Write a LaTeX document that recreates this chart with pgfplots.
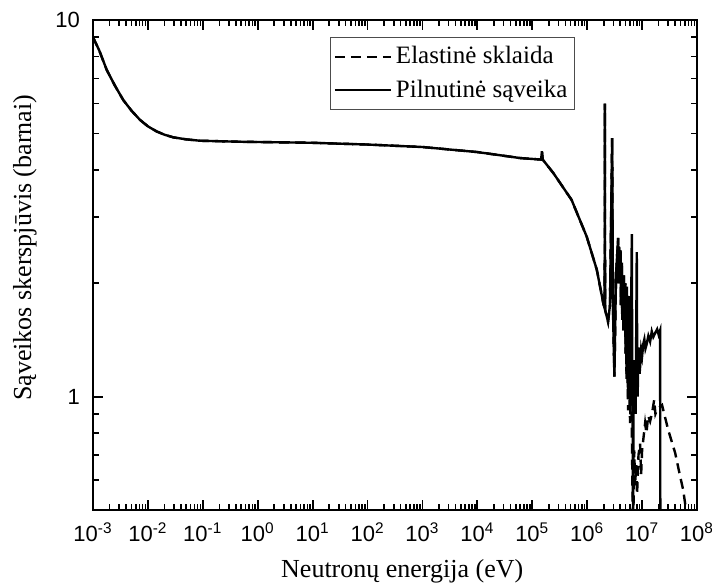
\documentclass[border=0pt]{standalone}
\usepackage{pgfplots}
\pgfplotsset{compat=1.18}
\usepackage{fontspec}
\setmainfont{Liberation Serif}
\newfontfamily\arial{Liberation Sans}

\pgfplotstableread{
x y
0.001 9.0
0.0013 8.3
0.00178 7.37
0.0025 6.7
0.00356 6.13
0.005 5.75
0.00718 5.43
0.01 5.22
0.0144 5.06
0.02 4.96
0.029 4.88
0.05 4.82
0.089 4.78
0.48 4.75
3.9 4.73
10 4.72
100 4.67
1000 4.60
10000 4.46
60000 4.30
145000 4.26
150000 4.48
155000 4.26
243000 3.92
520000 3.33
980000 2.66
1500000 2.17
1980000 1.76
2080000 1.72
2100000 6.0
2120000 1.70
2400000 1.58
2600000 1.75
2850000 4.86
2950000 1.7
3130000 1.13
3350000 2.1
3660000 2.64
3750000 2.0
3800000 2.5
3950000 2.2
4050000 2.45
4100000 1.75
4270000 2.27
4350000 1.6
4450000 2.0
4550000 1.5
4650000 2.1
4750000 1.6
4900000 2.0
}\common

\pgfplotstableread{
x y
4900000 2.0
5000000 1.3
5100000 1.95
5200000 1.15
5300000 1.96
5450000 1.2
5560000 1.0
5700000 1.7
5800000 1.85
5900000 1.1
6040000 0.95
6200000 1.4
6300000 1.6
6500000 2.70
6600000 1.3
6700000 1.0
6850000 0.45
7000000 1.1
7200000 1.25
7400000 1.0
7600000 0.9
7800000 1.4
8000000 2.42
8150000 1.2
8300000 1.0
8500000 1.25
8700000 1.35
9000000 1.15
9200000 1.2
9600000 1.33
10000000 1.28
10500000 1.38
11000000 1.42
11500000 1.34
12000000 1.37
13000000 1.45
14000000 1.40
15000000 1.49
16000000 1.44
17500000 1.48
18800000 1.51
20000000 1.46
21300000 1.50
21500000 0.4
}\totalhigh

\pgfplotstableread{
x y
4900000 2.0
5000000 1.3
5100000 1.9
5200000 1.1
5300000 1.85
5450000 1.1
5560000 0.92
5700000 1.4
5800000 1.6
5900000 1.0
6040000 0.85
6300000 1.1
6500000 0.8
6850000 0.42
7200000 0.72
7450000 0.58
7800000 0.66
8100000 0.55
8600000 0.7
9200000 0.75
9600000 0.62
10000000 0.72
11350000 0.85
12000000 0.8
12900000 0.89
14000000 0.86
15200000 0.905
16600000 0.98
17500000 0.9
18800000 0.925
21300000 0.94
23100000 0.95
29800000 0.817
40000000 0.709
49200000 0.615
55800000 0.567
63200000 0.5
70000000 0.46
}\elastichigh

\begin{document}
\begin{tikzpicture}
\begin{axis}[
  at={(0pt,0pt)}, anchor=south west,
  scale only axis, width=302pt, height=245pt,
  xmode=log, ymode=log,
  xmin=1e-3, xmax=1e8, ymin=0.5, ymax=10,
  axis line style={line width=0.8pt},
  xtick={1e-3,1e-2,1e-1,1,10,100,1e3,1e4,1e5,1e6,1e7,1e8},
  minor xtick={2e-3,3e-3,4e-3,5e-3,6e-3,7e-3,8e-3,9e-3,
    2e-2,3e-2,4e-2,5e-2,6e-2,7e-2,8e-2,9e-2,
    2e-1,3e-1,4e-1,5e-1,6e-1,7e-1,8e-1,9e-1,
    2,3,4,5,6,7,8,9,
    20,30,40,50,60,70,80,90,
    200,300,400,500,600,700,800,900,
    2e3,3e3,4e3,5e3,6e3,7e3,8e3,9e3,
    2e4,3e4,4e4,5e4,6e4,7e4,8e4,9e4,
    2e5,3e5,4e5,5e5,6e5,7e5,8e5,9e5,
    2e6,3e6,4e6,5e6,6e6,7e6,8e6,9e6,
    2e7,3e7,4e7,5e7,6e7,7e7,8e7,9e7},
  xticklabels={10\textsuperscript{-3},10\textsuperscript{-2},10\textsuperscript{-1},10\textsuperscript{0},10\textsuperscript{1},10\textsuperscript{2},10\textsuperscript{3},10\textsuperscript{4},10\textsuperscript{5},10\textsuperscript{6},10\textsuperscript{7},10\textsuperscript{8}},
  ytick={1,10}, yticklabels={1,10},
  minor ytick={0.6,0.7,0.8,0.9,2,3,4,5,6,7,8,9},
  tick align=inside,
  major tick length=5pt, minor tick length=3pt,
  major tick style={black, line width=0.9pt},
  minor tick style={black, line width=0.8pt},
  ticklabel style={font=\arial\fontsize{11}{13}\selectfont},
  xticklabel style={yshift=-3pt},
  yticklabel style={xshift=-3pt},
  xlabel={Neutronų energija (eV)},
  ylabel={Sąveikos skerspjūvis (barnai)},
  label style={font=\fontsize{13}{15}\selectfont},
  xlabel style={at={(axis description cs:0.512,-0.1245)}, anchor=center},
  ylabel style={at={(axis description cs:-0.1126,0.535)}, anchor=center, rotate=0},
  legend style={at={(0.798,0.965)}, anchor=north east, draw=black!70, line width=0.5pt,
    font=\fontsize{12.5}{14}\selectfont, inner xsep=1.5pt, inner ysep=2.5pt, row sep=2.5pt,
    cells={anchor=west}},
  legend image code/.code={\draw[#1] (0pt,0pt) -- (28pt,0pt);},
]
\addplot[black, line width=1.2pt, dash pattern=on 5pt off 3pt] table[x=x,y=y] {\common};
\addlegendentry{Elastinė sklaida}
\addplot[black, line width=1.2pt, dash pattern=on 5pt off 3pt, forget plot] table[x=x,y=y] {\elastichigh};
\addplot[black, line width=1.2pt] table[x=x,y=y] {\common};
\addlegendentry{Pilnutinė sąveika}
\addplot[black, line width=1.2pt, forget plot] table[x=x,y=y] {\totalhigh};
\end{axis}
\pgfresetboundingbox
\path (-46.5pt,-37pt) rectangle (309.5pt,255pt);
\end{tikzpicture}
\end{document}
